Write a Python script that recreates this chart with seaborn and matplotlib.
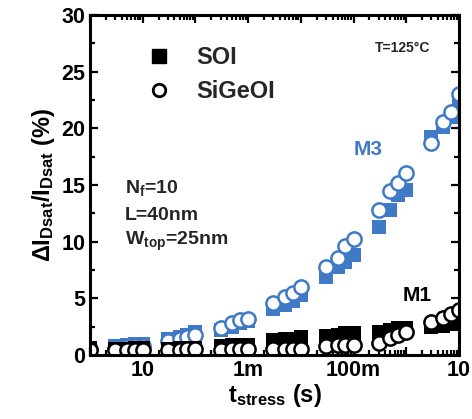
import numpy as np
import pandas as pd
import seaborn as sns
import matplotlib
matplotlib.use("Agg")
import matplotlib.pyplot as plt
from matplotlib.lines import Line2D
from matplotlib.ticker import FixedLocator, FixedFormatter, LogLocator, NullFormatter

# stress times (s): one point at 1us, then groups of 3,5,7,10 per decade
t_stress = [1e-6,
            3e-6, 5e-6, 7e-6, 1e-5,
            3e-5, 5e-5, 7e-5, 1e-4,
            3e-4, 5e-4, 7e-4, 1e-3,
            3e-3, 5e-3, 7e-3, 1e-2,
            3e-2, 5e-2, 7e-2, 1e-1,
            0.3, 0.5, 0.7, 1.0,
            3.0, 5.0, 7.0, 10.0]

m3_soi = [0.6,
          0.8, 0.9, 1.0, 1.0,
          1.4, 1.6, 1.8, 2.0,
          2.2, 2.5, 2.8, 3.0,
          4.1, 4.4, 4.8, 5.3,
          6.9, 7.8, 8.2, 8.8,
          11.3, 12.8, 14.1, 14.6,
          19.2, 20.1, 21.0, 22.3]

m3_sigeoi = [0.5,
             0.6, 0.7, 0.8, 0.8,
             1.2, 1.4, 1.6, 1.8,
             2.4, 2.8, 3.1, 3.2,
             4.6, 5.1, 5.5, 6.0,
             7.8, 8.6, 9.6, 10.2,
             12.8, 14.5, 15.2, 16.1,
             18.7, 20.6, 21.4, 23.0]

m1_soi = [0.6,
          0.5, 0.5, 0.6, 0.6,
          0.5, 0.6, 0.6, 0.6,
          0.8, 0.85, 0.9, 0.9,
          1.3, 1.4, 1.4, 1.6,
          1.7, 1.8, 1.9, 1.9,
          2.0, 2.2, 2.4, 2.4,
          2.5, 2.6, 2.7, 2.8]

m1_sigeoi = [0.4,
             0.4, 0.4, 0.45, 0.45,
             0.4, 0.45, 0.5, 0.5,
             0.45, 0.5, 0.5, 0.5,
             0.5, 0.5, 0.55, 0.55,
             0.8, 0.85, 0.9, 0.9,
             1.1, 1.5, 1.8, 2.0,
             2.9, 3.3, 3.6, 4.0]

x_decades = [1e-6, 1e-5, 1e-4, 1e-3, 1e-2, 1e-1, 1, 1e1]
x_tick_labels = ["", "10", "", "1m", "", "100m", "", "10"]

blue = "#3f7ac6"

df = pd.DataFrame({"t": t_stress, "m3_soi": m3_soi, "m3_sigeoi": m3_sigeoi,
                   "m1_soi": m1_soi, "m1_sigeoi": m1_sigeoi})

sns.set_style("ticks")
plt.rcParams["font.family"] = ["Liberation Sans", "DejaVu Sans"]
plt.rcParams["font.weight"] = "bold"
plt.rcParams["mathtext.fontset"] = "custom"
plt.rcParams["mathtext.rm"] = "Liberation Sans:bold"
plt.rcParams["mathtext.it"] = "Liberation Sans:bold"
plt.rcParams["mathtext.bf"] = "Liberation Sans:bold"

fig = plt.figure(figsize=(4.72, 4.19), dpi=100)
ax = fig.add_axes([0.1907, 0.1527, 0.7818, 0.8115])

sns.scatterplot(data=df, x="t", y="m3_soi", marker="s", color=blue,
                s=115, linewidth=0, ax=ax, zorder=3)
sns.scatterplot(data=df, x="t", y="m3_sigeoi", marker="o", color="white",
                edgecolor=blue, s=105, linewidth=1.8, ax=ax, zorder=4)
sns.scatterplot(data=df, x="t", y="m1_soi", marker="s", color="black",
                s=115, linewidth=0, ax=ax, zorder=5)
sns.scatterplot(data=df, x="t", y="m1_sigeoi", marker="o", color="white",
                edgecolor="black", s=105, linewidth=1.8, ax=ax, zorder=6)

ax.set_xscale("log")
ax.set_xlim(1e-6, 10)
ax.set_ylim(0, 30)

# every decade is a major tick, only every second one is labelled
ax.xaxis.set_major_locator(FixedLocator(x_decades))
ax.xaxis.set_major_formatter(FixedFormatter(x_tick_labels))
ax.xaxis.set_minor_locator(LogLocator(base=10, subs=np.arange(2, 10), numticks=20))
ax.xaxis.set_minor_formatter(NullFormatter())

ax.set_yticks([0, 5, 10, 15, 20, 25, 30])
ax.set_yticks(np.arange(2.5, 30, 5), minor=True)

ax.tick_params(which="both", direction="in", top=True, right=True,
               labelsize=15.5, width=1.6, color="black", labelcolor="black")
ax.tick_params(which="major", length=6)
ax.tick_params(which="minor", length=3.5)
for lab in ax.get_xticklabels() + ax.get_yticklabels():
    lab.set_fontweight("bold")
for sp in ax.spines.values():
    sp.set_linewidth(2.2)
    sp.set_color("black")
    sp.set_zorder(10)

ax.set_xlabel(r"t$_{stress}$ (s)", fontsize=17, fontweight="bold", labelpad=1, color="black")
ax.set_ylabel(r"$\Delta$I$_{Dsat}$/I$_{Dsat}$ (%)", fontsize=17, fontweight="bold", labelpad=3, color="black")

handles = [Line2D([], [], marker="s", color="black", ls="", markersize=10),
           Line2D([], [], marker="o", color="black", mfc="white", mew=2, ls="", markersize=9)]
ax.legend(handles, ["SOI", "SiGeOI"], loc="upper left", bbox_to_anchor=(0.09, 0.97),
          frameon=False, labelspacing=0.45, handletextpad=1.0, handlelength=1.2,
          prop={"weight": "bold", "size": 17})

ax.text(0.846, 0.891, "T=125°C", transform=ax.transAxes, fontsize=10,
        fontweight="bold", ha="center", va="baseline")
ax.text(0.095, 0.476, r"N$_f$=10", transform=ax.transAxes, fontsize=14,
        fontweight="bold", ha="left", va="baseline")
ax.text(0.095, 0.397, "L=40nm", transform=ax.transAxes, fontsize=14,
        fontweight="bold", ha="left", va="baseline")
ax.text(0.095, 0.323, r"W$_{top}$=25nm", transform=ax.transAxes, fontsize=14,
        fontweight="bold", ha="left", va="baseline")
ax.text(0.753, 0.603, "M3", transform=ax.transAxes, fontsize=15, color=blue,
        fontweight="bold", ha="center", va="center")
ax.text(0.886, 0.176, "M1", transform=ax.transAxes, fontsize=15, color="black",
        fontweight="bold", ha="center", va="center")

fig.savefig("out.png", dpi=100)
